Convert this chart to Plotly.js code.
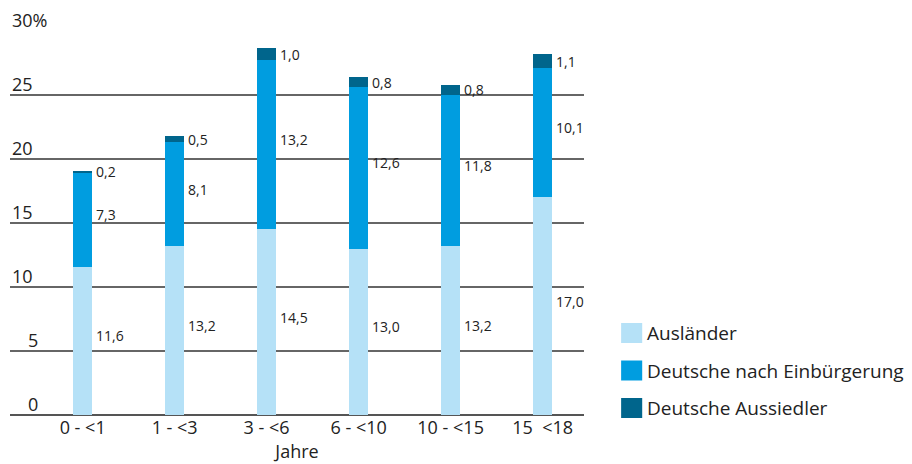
<!DOCTYPE html>
<html>
<head>
<meta charset="utf-8">
<script src="https://cdn.plot.ly/plotly-3.0.1.min.js"></script>
<style>
  html, body { margin: 0; padding: 0; background: #fff; }
  #chart { width: 912px; height: 464px; }
</style>
</head>
<body>
<div id="chart"></div>
<script>
// data
const categories = ['0 - <1', '1 - <3', '3 - <6', '6 - <10', '10 - <15', '15  <18'];
const auslaender = [11.6, 13.2, 14.5, 13.0, 13.2, 17.0];
const einbuergerung = [7.3, 8.1, 13.2, 12.6, 11.8, 10.1];
const aussiedler = [0.2, 0.5, 1.0, 0.8, 0.8, 1.1];
const seriesNames = ['Ausländer', 'Deutsche nach Einbürgerung', 'Deutsche Aussiedler'];
const seriesColors = ['#b5e1f7', '#009de0', '#00658c'];
const yTicks = [0, 5, 10, 15, 20, 25, 30];
const yTickText = ['0', '5', '10', '15', '20', '25', '30%'];

const fontFam = '"Open Sans", "DejaVu Sans", sans-serif';
const txtCol = '#222';
const xIdx = categories.map(function (c, i) { return i; });
const allSeries = [auslaender, einbuergerung, aussiedler];

const traces = allSeries.map(function (vals, k) {
  return {
    type: 'bar',
    x: xIdx,
    y: vals,
    name: seriesNames[k],
    width: 0.21,
    marker: { color: seriesColors[k], line: { width: 0 } },
    showlegend: false,
    hoverinfo: 'skip'
  };
});

function fmt(v) { return v.toFixed(1).replace('.', ','); }

const annotations = [];
// value labels right of each segment, near its middle
for (let i = 0; i < categories.length; i++) {
  let base = 0;
  for (let k = 0; k < allSeries.length; k++) {
    const v = allSeries[k][i];
    annotations.push({
      x: i, y: base + v / 2, xref: 'x', yref: 'y',
      text: fmt(v), showarrow: false,
      xanchor: 'left', yanchor: 'middle', xshift: 11,
      yshift: k < 2 ? 5 : 0,
      font: { family: fontFam, size: 14, color: txtCol }
    });
    base += v;
  }
}

// y tick labels sit above the gridlines
yTicks.forEach(function (t, i) {
  const lab = yTickText[i];
  annotations.push({
    x: 0, y: t, xref: 'paper', yref: 'y',
    text: lab, showarrow: false,
    xanchor: 'left', yanchor: 'bottom',
    xshift: lab.length === 1 ? 16 : 0, yshift: -3,
    font: { family: fontFam, size: 18, color: txtCol }
  });
});

// legend drawn by hand (big square swatches)
const shapes = [];
seriesNames.forEach(function (n, k) {
  const yPix = 333 + k * 37.5;
  const y0 = 1 - (yPix - 31) / 384;
  shapes.push({
    type: 'rect', xref: 'paper', yref: 'paper',
    x0: (619 - 10) / 572, x1: (640 - 10) / 572,
    y0: y0 - 10 / 384, y1: y0 + 10 / 384,
    fillcolor: seriesColors[k], line: { width: 0 }
  });
  annotations.push({
    x: (643 - 10) / 572, y: y0, xref: 'paper', yref: 'paper',
    text: n, showarrow: false, xanchor: 'left', yanchor: 'middle',
    font: { family: fontFam, size: 19, color: txtCol }
  });
});

const layout = {
  width: 912,
  height: 464,
  margin: { l: 10, r: 328, t: 31, b: 49 },
  paper_bgcolor: '#fff',
  plot_bgcolor: '#fff',
  barmode: 'stack',
  font: { family: fontFam, color: txtCol },
  xaxis: {
    range: [-0.79, 5.45],
    tickvals: xIdx,
    ticktext: categories,
    showgrid: false,
    zeroline: false,
    showline: false,
    ticks: '',
    tickfont: { size: 18, color: txtCol },
    title: { text: 'Jahre', font: { size: 18, color: txtCol }, standoff: 4 }
  },
  yaxis: {
    range: [0, 30],
    tickvals: yTicks,
    showticklabels: false,
    showgrid: true,
    gridcolor: '#666',
    gridwidth: 1.5,
    zeroline: true,
    zerolinecolor: '#555',
    zerolinewidth: 1.5,
    ticks: ''
  },
  annotations: annotations,
  shapes: shapes
};

Plotly.newPlot('chart', traces, layout, { displayModeBar: false, staticPlot: true });
</script>
</body>
</html>
